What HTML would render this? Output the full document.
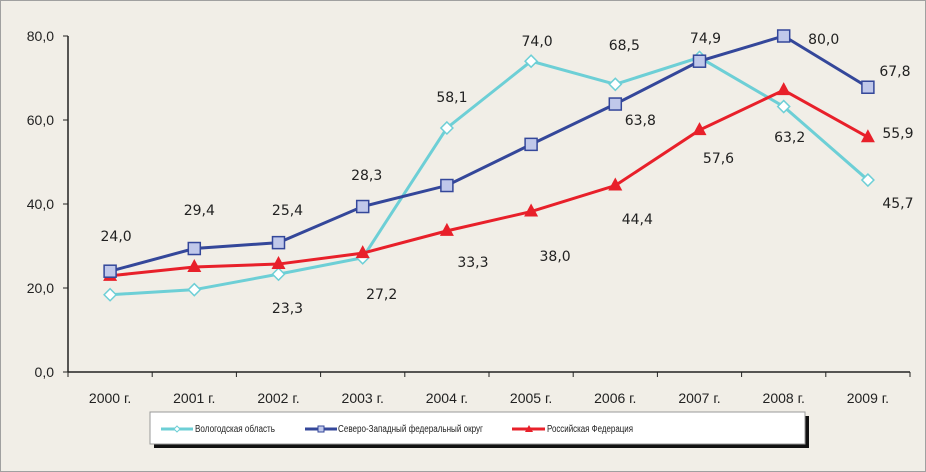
<!DOCTYPE html>
<html><head><meta charset="utf-8"><style>
body{margin:0;background:#f1eee7;}
svg{display:block;font-family:"Liberation Sans","DejaVu Sans",sans-serif;}
</style></head><body>
<svg id="c" width="926" height="472" xmlns="http://www.w3.org/2000/svg">
<rect x="0.5" y="0.5" width="925" height="471" fill="#f1eee7" stroke="#a0a0a0"/>
<g id="g"></g>
<g>
<rect x="154" y="416" width="655" height="32" fill="#111"/>
<rect x="150" y="412" width="655" height="32" fill="#fff" stroke="#999"/>
<g>
<line x1="161" y1="429" x2="193" y2="429" stroke="#6dcfd6" stroke-width="3"/>
<path d="M177 426 L180 429 L177 432 L174 429Z" fill="#fff" stroke="#6dcfd6"/>
<text x="195" y="432" font-size="10" fill="#222" textLength="80" lengthAdjust="spacingAndGlyphs">Вологодская область</text></g>
<g>
<line x1="305" y1="429" x2="337" y2="429" stroke="#34479a" stroke-width="3"/>
<rect x="318" y="426" width="6" height="6" fill="#c0c8ea" stroke="#34479a"/>
<text x="338" y="432" font-size="10" fill="#222" textLength="145" lengthAdjust="spacingAndGlyphs">Северо-Западный федеральный округ</text></g>
<g>
<line x1="512" y1="429" x2="545" y2="429" stroke="#e8202a" stroke-width="3"/>
<path d="M529 425 L533 432 L525 432Z" fill="#e8202a"/>
<text x="547" y="432" font-size="10" fill="#222" textLength="86" lengthAdjust="spacingAndGlyphs">Российская Федерация</text></g>
</g>
</svg>
<script>
const years=["2000 г.","2001 г.","2002 г.","2003 г.","2004 г.","2005 г.","2006 г.","2007 г.","2008 г.","2009 г."];
const vologda=[18.4,19.6,23.3,27.2,58.1,74.0,68.5,74.9,63.2,45.7];
const nwfd=[24.0,29.4,30.8,39.4,44.4,54.2,63.8,74.0,80.0,67.8];
const russia=[22.9,25.0,25.7,28.3,33.6,38.2,44.4,57.6,67.1,55.9];
const yTicks=[0,20,40,60,80];
const labelTexts=["24,0","29,4","25,4","28,3","58,1","74,0","68,5","74,9","80,0","67,8","23,3","27,2","33,3","38,0","44,4","57,6","63,2","55,9","45,7","63,8"];
const labelIdx=[0,1,2,3,4,5,6,7,8,9,2,3,4,5,6,7,8,9,9,6];
const labelVal=[32.4,38.6,38.6,46.9,65.5,78.8,77.9,79.5,79.3,71.7,15.2,18.6,26.2,27.6,36.4,51,56,56.9,40.2,60];
const labelDx=[6,5,9,4,5,6,9,6,40,27,9,19,26,24,22,19,6,30,30,25];
const NS="http://www.w3.org/2000/svg",g=document.getElementById('g');
const x0=68,x1=910,yb=372,yt=36;
const X=i=>x0+(x1-x0)/years.length*(i+0.5);
const Y=v=>yb-(v/80)*(yb-yt);
function mk(t,a,p){const e=document.createElementNS(NS,t);for(const k in a)e.setAttribute(k,a[k]);(p||g).appendChild(e);return e;}
let ax=mk('line',{x1:x0,y1:yb,x2:x1,y2:yb,stroke:'#222','stroke-width':1.5});


let ay=mk('line',{x1:x0,y1:yt,x2:x0,y2:yb,stroke:'#222','stroke-width':1.5});


yTicks.forEach(v=>{mk('line',{x1:x0-5,y1:Y(v),x2:x0,y2:Y(v),stroke:'#222'});
let t=mk('text',{x:x0-14,y:Y(v)+5,'text-anchor':'end','font-size':14,fill:'#222'});t.textContent=v.toFixed(1).replace('.',',');

});
for(let i=0;i<=years.length;i++){const x=x0+(x1-x0)/years.length*i;mk('line',{x1:x,y1:yb,x2:x,y2:yb+5,stroke:'#222'});}
years.forEach((y,i)=>{let t=mk('text',{x:X(i),y:yb+31,'text-anchor':'middle','font-size':14,fill:'#222'});t.textContent=y;

});
function series(d,col,name,mark){
 let p=mk('polyline',{points:d.map((v,i)=>X(i)+','+Y(v)).join(' '),fill:'none',stroke:col,'stroke-width':3});
 
 
 d.forEach((v,i)=>{const x=X(i),y=Y(v);let m;
  if(mark==='d')m=mk('path',{d:`M${x} ${y-6}L${x+6} ${y}L${x} ${y+6}L${x-6} ${y}Z`,fill:'#fff',stroke:col,'stroke-width':1.5});
  else if(mark==='s')m=mk('rect',{x:x-6,y:y-6,width:12,height:12,fill:'#c0c8ea',stroke:col,'stroke-width':1.5});
  else m=mk('path',{d:`M${x} ${y-8}L${x+7} ${y+5}L${x-7} ${y+5}Z`,fill:col});
  
  });
}
series(vologda,'#6dcfd6','vologda','d');
series(russia,'#e8202a','russia','t');
series(nwfd,'#34479a','nwfd','s');
labelTexts.forEach((s,k)=>{let t=mk('text',{x:X(labelIdx[k])+labelDx[k],y:Y(labelVal[k])+5,'text-anchor':'middle','font-size':14,fill:'#222','font-family':'DejaVu Sans, sans-serif'});t.textContent=s;

});
</script>
</body></html>
